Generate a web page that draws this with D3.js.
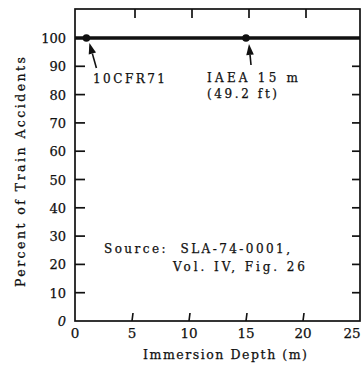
<!DOCTYPE html>
<html>
<head>
<meta charset="utf-8">
<script src="https://cdn.jsdelivr.net/npm/d3@7/dist/d3.min.js"></script>
<style>
  html, body { margin: 0; padding: 0; background: #fff; }
  svg text { font-family: "DejaVu Serif", "Liberation Serif", serif; fill: #111; stroke: #111; stroke-width: 0.25; }
</style>
</head>
<body>
<svg id="chart" width="362" height="370"></svg>
<script>
// Percent of train accidents vs. immersion depth
const curveDepth = [0, 25];
const curvePercent = [100, 100];
const markDepth = [1, 15];
const markPercent = [100, 100];
const markLabels = [["10CFR71"], ["IAEA 15 m", "(49.2 ft)"]];
const xTicks = [0, 5, 10, 15, 20, 25];
const yTicks = [0, 10, 20, 30, 40, 50, 60, 70, 80, 90, 100];
const sourceLines = ["Source:  SLA-74-0001,", "Vol. IV, Fig. 26"];

const svg = d3.select("#chart");
const plotL = 75, plotR = 360, plotT = 9, plotB = 321;

const x = d3.scaleLinear().domain([0, 25]).range([plotL, plotR]);
const y = d3.scaleLinear().domain([0, 100]).range([plotB, 38]);

const ink = "#111";

// frame
svg.append("rect")
  .attr("x", plotL).attr("y", plotT)
  .attr("width", plotR - plotL).attr("height", plotB - plotT)
  .attr("fill", "none").attr("stroke", ink).attr("stroke-width", 1.7);

// inward ticks on all four sides
const inner = xTicks.filter(d => d > 0 && d < 25);
svg.append("g").selectAll("line").data(inner).join("line")
  .attr("x1", d => x(d)).attr("x2", d => x(d) + 1)
  .attr("y1", plotB).attr("y2", plotB - 8)
  .attr("stroke", ink).attr("stroke-width", 1.7);
svg.append("g").selectAll("line").data(inner).join("line")
  .attr("x1", d => x(d) + 3).attr("x2", d => x(d) + 3)
  .attr("y1", plotT).attr("y2", plotT + 9)
  .attr("stroke", ink).attr("stroke-width", 1.7);
const innerY = yTicks.filter(d => d > 0 && d < 100);
svg.append("g").selectAll("line").data(innerY).join("line")
  .attr("x1", plotL).attr("x2", plotL + 10)
  .attr("y1", d => y(d)).attr("y2", d => y(d))
  .attr("stroke", ink).attr("stroke-width", 1.7);
svg.append("g").selectAll("line").data(innerY).join("line")
  .attr("x1", plotR).attr("x2", plotR - 8)
  .attr("y1", d => y(d)).attr("y2", d => y(d))
  .attr("stroke", ink).attr("stroke-width", 1.7);

// tick labels
svg.append("g").selectAll("text").data(yTicks).join("text")
  .attr("x", plotL - 9).attr("y", d => y(d) + 5)
  .attr("text-anchor", "end")
  .attr("font-size", 13)
  .attr("font-style", d => d === 0 ? "italic" : null)
  .text(d => d);
svg.append("g").selectAll("text").data(xTicks).join("text")
  .attr("x", d => d === 25 ? x(d) - 8 : x(d)).attr("y", plotB + 17)
  .attr("text-anchor", "middle")
  .attr("font-size", 13.5)
  .text(d => d);

// axis titles
svg.append("text")
  .attr("x", 143).attr("y", 359)
  .attr("font-size", 12.5)
  .attr("textLength", 164).attr("lengthAdjust", "spacing")
  .text("Immersion Depth (m)");
svg.append("text")
  .attr("transform", "translate(25, 287) rotate(-90)")
  .attr("font-size", 12.5)
  .attr("textLength", 230).attr("lengthAdjust", "spacing")
  .text("Percent of Train Accidents");

// curve
const line = d3.line().x(d => x(d[0])).y(d => y(d[1]));
svg.append("path")
  .datum(curveDepth.map((d, i) => [d, curvePercent[i]]))
  .attr("d", line)
  .attr("fill", "none").attr("stroke", ink).attr("stroke-width", 3.5);

// marked points
svg.append("g").selectAll("circle").data(markDepth).join("circle")
  .attr("cx", d => x(d)).attr("cy", (d, i) => y(markPercent[i]))
  .attr("r", 3.8).attr("fill", ink);

// arrows pointing at the marked points
const arrowSpecs = [
  { tail: [10, 30], tip: [3, 5] },
  { tail: [5, 27], tip: [3, 6] }
];
markDepth.forEach((d, i) => {
  const px = x(d), py = y(markPercent[i]);
  const a = arrowSpecs[i];
  const tx = px + a.tip[0], ty = py + a.tip[1];
  const sx = px + a.tail[0], sy = py + a.tail[1];
  const ang = Math.atan2(sy - ty, sx - tx);
  const L = 11, W = 3.8;
  const bx = tx + Math.cos(ang) * L, by = ty + Math.sin(ang) * L;
  svg.append("line")
    .attr("x1", sx).attr("y1", sy).attr("x2", bx).attr("y2", by)
    .attr("stroke", ink).attr("stroke-width", 1.6);
  const nx = -Math.sin(ang) * W, ny = Math.cos(ang) * W;
  svg.append("path")
    .attr("d", `M${tx},${ty}L${bx + nx},${by + ny}L${bx - nx},${by - ny}Z`)
    .attr("fill", ink);
});

// point labels
const labelLayout = [
  [{ x: 93, y: 83, w: 72 }],
  [{ x: 207, y: 82, w: 91 }, { x: 207, y: 98, w: 70 }]
];
markLabels.forEach((lines, i) => {
  lines.forEach((t, j) => {
    const p = labelLayout[i][j];
    svg.append("text")
      .attr("x", p.x).attr("y", p.y)
      .attr("font-size", 12)
      .attr("textLength", p.w).attr("lengthAdjust", "spacing")
      .text(t);
  });
});

// source note
const sourceLayout = [{ x: 104, y: 253, w: 186 }, { x: 173, y: 271, w: 132 }];
sourceLines.forEach((t, j) => {
  const p = sourceLayout[j];
  svg.append("text")
    .attr("x", p.x).attr("y", p.y)
    .attr("font-size", 12)
    .attr("xml:space", "preserve")
    .attr("textLength", p.w).attr("lengthAdjust", "spacing")
    .text(t);
});
</script>
</body>
</html>
